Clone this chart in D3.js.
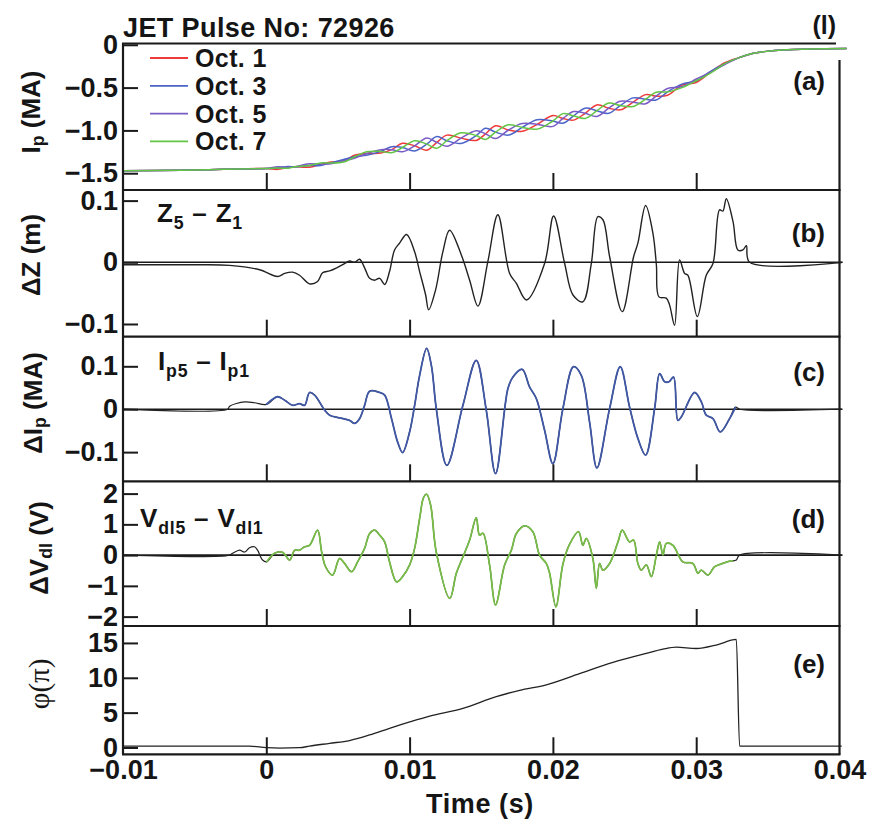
<!DOCTYPE html>
<html>
<head>
<meta charset="utf-8">
<script src="https://cdn.jsdelivr.net/npm/d3@7"></script>
<style>
  html, body { margin: 0; padding: 0; background: #fff; }
  svg text { font-family: "Liberation Sans", Arial, Helvetica, sans-serif; font-weight: bold; fill: #151515; }
</style>
</head>
<body>
<svg id="chart" width="874" height="828"></svg>
<script>
// ---------- data (time in ms) ----------

// (a) plasma current seen by four toroidal octants, MA
const ipTime = [-10, -6, -3, 0, 0.8, 1.5, 2, 3, 3.8, 4.5, 5.4, 6.2, 7, 8, 8.75, 9.5, 10.35, 11.2, 11.9, 12.6,
  13.6, 14.65, 15.3, 16, 16.9, 17.86, 18.9, 20, 20.7, 21.44, 22.25, 23.07, 23.9, 24.7, 25.6, 26.47, 27.2, 28,
  29, 30, 31, 32, 33, 34, 35, 36, 38, 40.5];
const ipOct1 = [-1.47, -1.465, -1.455, -1.445, -1.455, -1.432, -1.425, -1.43, -1.395, -1.37, -1.355, -1.288,
  -1.27, -1.265, -1.225, -1.15, -1.18, -1.231, -1.14, -1.055, -1.09, -1.117, -1.04, -0.945, -0.995, -1.011,
  -0.93, -0.827, -0.86, -0.88, -0.80, -0.702, -0.74, -0.76, -0.67, -0.582, -0.60, -0.59, -0.47, -0.44, -0.32,
  -0.21, -0.15, -0.10, -0.075, -0.06, -0.048, -0.043];
const ipOct3 = [-1.47, -1.465, -1.455, -1.445, -1.44, -1.422, -1.425, -1.41, -1.41, -1.38, -1.34, -1.305,
  -1.29, -1.245, -1.19, -1.20, -1.24, -1.16, -1.072, -1.12, -1.152, -1.06, -0.975, -1.02, -1.055, -0.965,
  -0.875, -0.89, -0.916, -0.83, -0.74, -0.77, -0.80, -0.71, -0.62, -0.635, -0.645, -0.55, -0.46, -0.42, -0.31,
  -0.22, -0.15, -0.10, -0.075, -0.06, -0.048, -0.043];
const ipOct5 = [-1.47, -1.465, -1.455, -1.445, -1.425, -1.432, -1.425, -1.39, -1.395, -1.39, -1.355, -1.322,
  -1.27, -1.225, -1.225, -1.25, -1.18, -1.089, -1.14, -1.185, -1.09, -1.003, -1.04, -1.095, -0.995, -0.919,
  -0.93, -0.953, -0.86, -0.78, -0.80, -0.838, -0.74, -0.66, -0.67, -0.688, -0.60, -0.51, -0.49, -0.40, -0.32,
  -0.23, -0.15, -0.10, -0.075, -0.06, -0.048, -0.043];
const ipOct7 = [-1.47, -1.465, -1.455, -1.445, -1.44, -1.442, -1.425, -1.41, -1.38, -1.38, -1.37, -1.305,
  -1.25, -1.245, -1.26, -1.20, -1.12, -1.16, -1.208, -1.12, -1.028, -1.06, -1.105, -1.02, -0.935, -0.965,
  -0.985, -0.89, -0.804, -0.83, -0.86, -0.77, -0.68, -0.71, -0.72, -0.635, -0.555, -0.55, -0.50, -0.42, -0.33,
  -0.22, -0.15, -0.10, -0.075, -0.06, -0.048, -0.043];
const octNames = ["Oct. 1", "Oct. 3", "Oct. 5", "Oct. 7"];
const octColors = ["#ee3a3a", "#4a63c8", "#7a5cc4", "#62c545"];

// (b) vertical displacement difference Z5 - Z1, m  [t, value]
const dzPoints = [[-10, -0.004], [-7.45, -0.004], [-4.65, -0.004], [-2.56, -0.005], [-0.47, -0.012],
  [0.79, -0.023], [1.28, -0.018], [1.84, -0.016], [2.32, -0.021], [3.02, -0.035], [3.58, -0.031],
  [3.93, -0.017], [4.42, -0.014], [4.91, -0.009], [5.46, -0.002], [5.81, 0.002], [6.16, 0.0], [6.51, 0.005],
  [6.86, -0.009], [7.21, -0.026], [7.56, -0.029], [7.91, -0.026], [8.26, -0.036], [8.6, -0.015],
  [8.95, 0.02], [9.3, 0.031], [9.79, 0.045], [10.35, 0.017], [10.7, -0.015], [11.12, -0.053],
  [11.33, -0.077], [11.81, -0.045], [12.32, 0.017], [12.79, 0.052], [13.61, 0.012], [14.19, -0.029],
  [14.77, -0.071], [15.46, 0.001], [16.16, 0.077], [16.98, -0.018], [17.45, -0.034], [18.16, -0.061],
  [19.42, -0.002], [20.05, 0.075], [20.82, -0.002], [21.4, -0.053], [22.09, -0.064], [22.68, -0.002],
  [23.14, 0.074], [23.49, 0.069], [23.96, 0.009], [24.84, -0.08], [25.63, 0.009], [25.93, 0.031],
  [26.47, 0.092], [26.98, 0.047], [27.22, -0.004], [27.4, -0.056], [27.91, -0.058], [28.14, -0.069],
  [28.49, -0.102], [28.84, 0.004], [29.19, -0.018], [29.42, -0.021], [30.08, -0.088], [30.7, -0.021],
  [31.17, -0.002], [31.63, 0.085], [31.86, 0.083], [32.1, 0.103], [32.57, 0.066], [32.91, 0.02],
  [33.26, 0.02], [33.5, 0.027], [33.73, 0.0], [40.2, 0.0]];

// (c) current difference Ip5 - Ip1, MA  [t, value]
const dipPoints = [[-10, 0], [-2.7, 0], [-2.56, 0.007], [-1.51, 0.017], [-0.82, 0.015], [0, 0.011],
  [0.79, 0.029], [1.28, 0.021], [1.84, 0.009], [2.32, 0.013], [2.67, 0.009], [3.02, 0.039], [3.37, 0.033],
  [4.07, -0.002], [4.42, -0.014], [5.11, -0.02], [5.81, -0.026], [6.16, -0.033], [6.51, -0.022],
  [6.86, 0.009], [7.21, 0.042], [7.91, 0.039], [8.26, 0.033], [8.74, -0.022], [9.16, -0.076],
  [9.51, -0.101], [10.0, -0.053], [10.35, 0.009], [10.7, 0.079], [11.19, 0.142], [11.53, 0.10],
  [11.86, 0.002], [12.6, -0.131], [13.72, 0.009], [14.65, 0.114], [15.35, -0.002], [16.0, -0.15],
  [16.86, 0.048], [17.21, 0.075], [17.86, 0.093], [18.37, 0.052], [18.84, 0.025], [19.42, -0.049],
  [20.0, -0.127], [20.7, 0.002], [21.44, 0.099], [21.98, 0.079], [22.56, -0.03], [23.07, -0.137],
  [23.96, 0.002], [24.7, 0.099], [25.35, 0.005], [25.93, -0.068], [26.47, -0.107], [27.1, 0.002],
  [27.45, 0.083], [27.8, 0.064], [28.1, 0.064], [28.42, 0.075], [28.72, -0.026], [28.96, -0.018],
  [29.89, 0.039], [30.36, 0.017], [30.7, -0.014], [31.17, -0.022], [31.68, -0.053], [32.33, -0.022],
  [32.75, 0.005], [33.03, 0], [40.15, 0]];

// (d) loop voltage difference Vdl5 - Vdl1, V  [t, value]
const dvPoints = [[-10, 0], [-2.56, 0], [-2.35, 0.06], [-1.86, 0.16], [-1.51, 0.10], [-1.17, 0.24],
  [-0.82, 0.27], [-0.61, 0.16], [-0.26, -0.16], [0.02, -0.22], [0.58, 0.06], [1.14, 0.09], [1.63, -0.16],
  [1.98, 0.16], [2.32, 0.16], [2.67, 0.27], [3.02, 0.32], [3.58, 0.81], [3.86, 0.11], [4.14, -0.38],
  [4.63, -0.65], [5.11, -0.11], [5.46, -0.27], [5.95, -0.54], [6.37, -0.22], [6.86, 0.22], [7.21, 0.7],
  [7.56, 0.81], [7.91, 0.65], [8.26, 0.43], [8.6, -0.22], [9.09, -0.87], [9.51, -0.7], [10.0, -0.32],
  [10.35, 0.22], [10.7, 1.19], [10.98, 1.88], [11.19, 1.98], [11.47, 1.62], [11.86, 0.1], [12.81, -1.41],
  [13.26, -0.59], [13.72, -0.06], [14.19, 0.49], [14.65, 1.22], [14.88, 0.65], [15.12, 0.71],
  [15.58, -0.32], [16.0, -1.62], [16.63, -0.32], [17.1, 0.16], [17.45, 0.7], [18.03, 0.95], [18.6, 0.76],
  [19.07, 0.0], [19.54, -0.27], [19.77, -0.59], [20.21, -1.68], [20.7, -0.29], [21.17, 0.36],
  [21.79, 0.76], [22.09, 0.32], [22.33, 0.54], [22.79, -0.11], [23.03, -1.08], [23.26, -0.27],
  [23.49, -0.49], [23.96, -0.27], [24.54, 0.43], [24.84, 0.81], [25.35, 0.43], [25.63, 0.49],
  [25.93, -0.27], [26.17, -0.49], [26.52, -0.32], [26.87, -0.7], [27.22, 0.0], [27.45, 0.43], [27.68, 0.0],
  [27.91, 0.38], [28.37, 0.32], [29.07, -0.22], [29.77, -0.27], [30.12, -0.59], [30.36, -0.49],
  [30.82, -0.65], [31.28, -0.38], [31.86, -0.27], [32.45, -0.19], [32.56, -0.19], [32.8, -0.16],
  [33.03, 0], [40.15, 0]];

// (e) mode phase, units of pi  [t, value]
const phiPoints = [[-10, 0.2], [-2.56, 0.2], [-1.17, 0.2], [0, -0.03], [0.93, -0.1], [2.32, -0.03],
  [3.02, 0.2], [4.42, 0.6], [5.81, 1.0], [7.21, 1.8], [8.6, 2.75], [10.07, 3.7], [11.4, 4.5], [13.72, 5.6],
  [16.05, 7.3], [17.68, 8.2], [19.54, 9.0], [21.86, 10.6], [24.19, 12.2], [26.52, 13.5], [27.68, 14.1],
  [28.61, 14.4], [30.0, 14.2], [31.4, 14.7], [32.8, 15.5], [33.03, 0.2], [40.15, 0.2]];

// axis ticks
const xTicks = [-10, 0, 10, 20, 30, 40];
const xTickLabels = ["\u22120.01", "0", "0.01", "0.02", "0.03", "0.04"];
const xInnerTicks = [0, 10, 20, 30];
const ipTicks = [0, -0.5, -1.0, -1.5];
const ipTickLabels = ["0", "\u22120.5", "\u22121.0", "\u22121.5"];
const dzTicks = [0.1, 0, -0.1];
const dzTickLabels = ["0.1", "0", "\u22120.1"];
const dipTicks = [0.1, 0, -0.1];
const dipTickLabels = ["0.1", "0", "\u22120.1"];
const dvTicks = [2, 1, 0, -1, -2];
const dvTickLabels = ["2", "1", "0", "\u22121", "\u22122"];
const phiTicks = [15, 10, 5, 0];
const phiTickLabels = ["15", "10", "5", "0"];

// ---------- layout ----------
const svg = d3.select("#chart");
const xLeft = 123, xRight = 839.5;
const x = d3.scaleLinear().domain([-10, 40]).range([xLeft, xRight]);
const ink = "#1a1a1a";

const panels = [
  { id: "a", top: 43.5, bottom: 190, domain: [-1.696, 0.015], ticks: ipTicks, labels: ipTickLabels, tag: "(a)", tagY: 81 },
  { id: "b", top: 190, bottom: 336.7, domain: [-0.1206, 0.1172], ticks: dzTicks, labels: dzTickLabels, tag: "(b)", tagY: 233 },
  { id: "c", top: 336.7, bottom: 481.3, domain: [-0.168, 0.169], ticks: dipTicks, labels: dipTickLabels, tag: "(c)", tagY: 372 },
  { id: "d", top: 481.3, bottom: 626, domain: [-2.305, 2.40], ticks: dvTicks, labels: dvTickLabels, tag: "(d)", tagY: 519 },
  { id: "e", top: 626, bottom: 754.3, domain: [-0.976, 17.43], ticks: phiTicks, labels: phiTickLabels, tag: "(e)", tagY: 664 }
];
panels.forEach(p => { p.y = d3.scaleLinear().domain(p.domain).range([p.bottom, p.top]); });
const P = Object.fromEntries(panels.map(p => [p.id, p]));

// ---------- data lines ----------
const lineFor = (p) => d3.line().x(d => x(d[0])).y(d => p.y(d[1])).curve(d3.curveCatmullRom.alpha(0.5));

// zero reference lines for the difference signals
["b", "c", "d"].forEach(id => {
  const p = P[id];
  svg.append("line").attr("x1", xLeft).attr("x2", xRight + 3)
    .attr("y1", p.y(0)).attr("y2", p.y(0))
    .attr("stroke", ink).attr("stroke-width", 1.6);
});

// (a) four octant currents
[ipOct1, ipOct3, ipOct5, ipOct7].forEach((vals, i) => {
  const pts = ipTime.map((t, k) => [t, vals[k]]);
  svg.append("path").attr("d", lineFor(P.a)(pts))
    .attr("fill", "none").attr("stroke", octColors[i]).attr("stroke-width", 1.5)
    .attr("stroke-linejoin", "round");
});

// (b)
svg.append("path").attr("d", lineFor(P.b)(dzPoints))
  .attr("fill", "none").attr("stroke", "#222").attr("stroke-width", 1.4).attr("stroke-linejoin", "round");

// (c) black outside the mode window, blue inside
const dipWindow = [0, 32.75];
svg.append("path").attr("d", lineFor(P.c)(dipPoints))
  .attr("fill", "none").attr("stroke", "#222").attr("stroke-width", 1.2);
svg.append("path").attr("d", lineFor(P.c)(dipPoints.filter(d => d[0] >= dipWindow[0] && d[0] <= dipWindow[1])))
  .attr("fill", "none").attr("stroke", "#4058a6").attr("stroke-width", 1.8).attr("stroke-linejoin", "round");

// (d) black outside the mode window, green inside
const dvWindow = [0, 32.56];
svg.append("path").attr("d", lineFor(P.d)(dvPoints))
  .attr("fill", "none").attr("stroke", "#222").attr("stroke-width", 1.2);
svg.append("path").attr("d", lineFor(P.d)(dvPoints.filter(d => d[0] >= dvWindow[0] && d[0] <= dvWindow[1])))
  .attr("fill", "none").attr("stroke", "#78bd48").attr("stroke-width", 1.8).attr("stroke-linejoin", "round");

// (e) phase
svg.append("path").attr("d", d3.line().x(d => x(d[0])).y(d => P.e.y(d[1])).curve(d3.curveMonotoneX)(phiPoints))
  .attr("fill", "none").attr("stroke", "#222").attr("stroke-width", 1.3);

// ---------- axes and frames ----------
panels.forEach(p => {
  // left axis with inward ticks
  const ax = svg.append("g").attr("transform", `translate(${xLeft},0)`)
    .call(d3.axisLeft(p.y).tickValues(p.ticks).tickFormat((d, i) => p.labels[i])
      .tickSizeInner(-15).tickSizeOuter(0).tickPadding(5));
  ax.select(".domain").remove();
  ax.selectAll(".tick line").attr("stroke", ink).attr("stroke-width", 2);
  ax.selectAll(".tick text").attr("font-size", 27).attr("font-family", null).attr("fill", "#151515");

  // bottom inward ticks
  const bx = svg.append("g").attr("transform", `translate(0,${p.bottom})`)
    .call(d3.axisBottom(x).tickValues(xInnerTicks).tickFormat("").tickSizeInner(-17).tickSizeOuter(0));
  bx.select(".domain").remove();
  bx.selectAll(".tick line").attr("stroke", ink).attr("stroke-width", 2);

  // frame: left, bottom, right
  svg.append("line").attr("x1", xLeft).attr("x2", xLeft).attr("y1", p.top).attr("y2", p.bottom)
    .attr("stroke", ink).attr("stroke-width", 2.2);
  svg.append("line").attr("x1", xLeft - 1).attr("x2", xRight + 1).attr("y1", p.bottom).attr("y2", p.bottom)
    .attr("stroke", ink).attr("stroke-width", 2.2);
  svg.append("line").attr("x1", xRight).attr("x2", xRight)
    .attr("y1", p.id === "a" ? 60 : p.top).attr("y2", p.bottom)
    .attr("stroke", ink).attr("stroke-width", 2.2);

  // panel tag
  svg.append("text").attr("x", 825).attr("y", p.tagY).attr("text-anchor", "end")
    .attr("dominant-baseline", "central").attr("font-size", 26).text(p.tag);
});
// top border of the stack
svg.append("line").attr("x1", xLeft - 1).attr("x2", 836).attr("y1", P.a.top).attr("y2", P.a.top)
  .attr("stroke", ink).attr("stroke-width", 2.2);

// time labels under the last panel
const tx = svg.append("g").attr("transform", `translate(0,${P.e.bottom})`)
  .call(d3.axisBottom(x).tickValues(xTicks).tickFormat((d, i) => xTickLabels[i]).tickSize(0).tickPadding(6));
tx.select(".domain").remove();
tx.selectAll(".tick text").attr("font-size", 27).attr("font-family", null).attr("fill", "#151515");

svg.append("text").attr("x", 480).attr("y", 813).attr("text-anchor", "middle")
  .attr("font-size", 27).attr("letter-spacing", 0.6).text("Time (s)");

// ---------- titles and annotations ----------
function rich(sel, parts, size) {
  let shift = 0;
  parts.forEach(part => {
    const target = part.sub ? size * 0.28 : 0;
    const ts = sel.append("tspan").attr("dy", target - shift).text(part.t);
    if (part.sub) ts.attr("font-size", size * 0.68);
    shift = target;
  });
}

svg.append("text").attr("x", xLeft).attr("y", 37).attr("font-size", 27).attr("letter-spacing", 0.4)
  .text("JET Pulse No: 72926");
svg.append("text").attr("x", 836).attr("y", 34).attr("text-anchor", "end").attr("font-size", 25).text("(l)");

// vertical axis titles
const yTitles = [
  { cx: 31, cy: 112, parts: [{ t: "I" }, { t: "p", sub: true }, { t: " (MA)" }] },
  { cx: 31, cy: 255, parts: [{ t: "\u0394Z (m)" }] },
  { cx: 33, cy: 403, parts: [{ t: "\u0394I" }, { t: "p", sub: true }, { t: " (MA)" }] },
  { cx: 39, cy: 548, parts: [{ t: "\u0394V" }, { t: "dl", sub: true }, { t: " (V)" }] }
];
yTitles.forEach(tt => {
  const t = svg.append("text").attr("transform", `translate(${tt.cx},${tt.cy}) rotate(-90)`)
    .attr("text-anchor", "middle").attr("dominant-baseline", "central").attr("font-size", 26);
  rich(t, tt.parts, 26);
});
svg.append("text").attr("transform", "translate(39,684) rotate(-90)")
  .attr("text-anchor", "middle").attr("dominant-baseline", "central")
  .attr("font-size", 29)
  .style("font-family", "'Liberation Serif', 'DejaVu Serif', serif").style("font-weight", "normal")
  .text("\u03C6(\u03C0)");

// signal annotations inside panels
const notes = [
  { x: 157, y: 222, parts: [{ t: "Z" }, { t: "5", sub: true }, { t: " \u2013 Z" }, { t: "1", sub: true }] },
  { x: 158, y: 370, parts: [{ t: "I" }, { t: "p5", sub: true }, { t: " \u2013 I" }, { t: "p1", sub: true }] },
  { x: 140, y: 527, parts: [{ t: "V" }, { t: "dl5", sub: true }, { t: " \u2013 V" }, { t: "dl1", sub: true }] }
];
notes.forEach(n => {
  const t = svg.append("text").attr("x", n.x).attr("y", n.y).attr("font-size", 26).attr("letter-spacing", 0.8);
  rich(t, n.parts, 26);
});

// legend
const legend = svg.append("g");
octNames.forEach((name, i) => {
  const ly = 58 + i * 27.8;
  legend.append("line").attr("x1", 150).attr("x2", 188).attr("y1", ly).attr("y2", ly)
    .attr("stroke", octColors[i]).attr("stroke-width", 1.8);
  legend.append("text").attr("x", 195).attr("y", ly).attr("dominant-baseline", "central")
    .attr("font-size", 25).attr("letter-spacing", 0.4).text(name);
});
</script>
</body>
</html>
